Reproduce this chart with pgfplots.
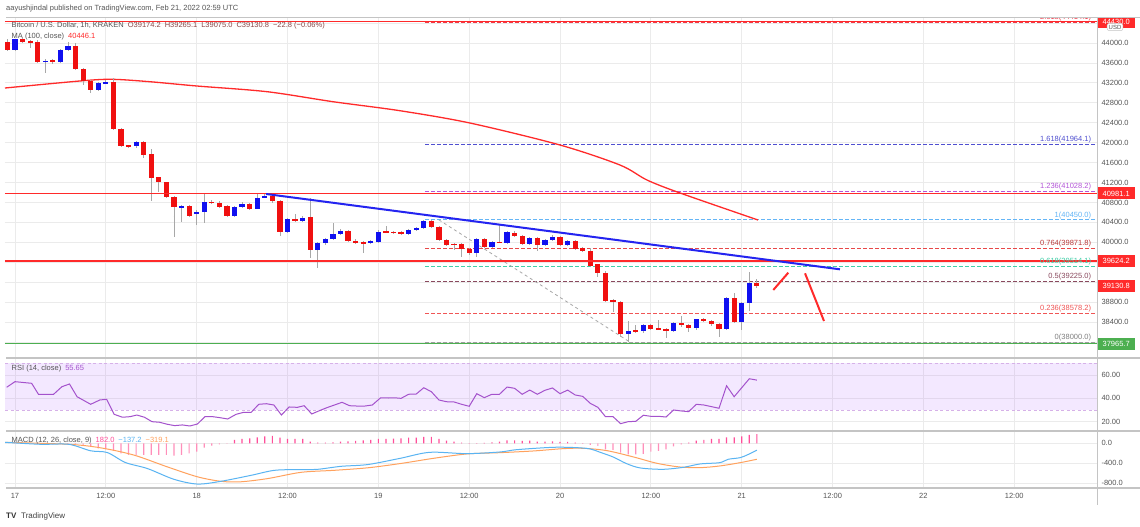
\documentclass[border=0pt]{standalone}
\usepackage{fontspec}
\setmainfont{Liberation Sans}
\usepackage{pgfplots}
\usepackage{pgfplotstable}
\pgfplotsset{compat=1.18}

\definecolor{bull}{HTML}{1010F0}
\definecolor{bear}{HTML}{F01010}
\definecolor{wick}{HTML}{A8A8A8}
\definecolor{gridc}{HTML}{EBEBEB}
\definecolor{sep}{HTML}{C4C4C4}
\definecolor{txt}{HTML}{555555}
\definecolor{lvred}{HTML}{FF2A2A}
\definecolor{lvgreen}{HTML}{4CAF50}
\definecolor{trend}{HTML}{2424F0}
\definecolor{rsic}{HTML}{A452CC}
\definecolor{bandc}{HTML}{B36BFF}
\definecolor{macdb}{HTML}{5AB4F2}
\definecolor{macdo}{HTML}{FFA25E}
\definecolor{hpos}{HTML}{FF4F9A}
\definecolor{hneg}{HTML}{FF8FBA}
\definecolor{fibA}{HTML}{F23645}
\definecolor{fibB}{HTML}{5050D0}
\definecolor{fibC}{HTML}{B455D8}
\definecolor{fibD}{HTML}{64B5F6}
\definecolor{fibE}{HTML}{E84848}
\definecolor{fibF}{HTML}{40CFA8}
\definecolor{fibG}{HTML}{8A4A5E}
\definecolor{fibH}{HTML}{F05555}
\definecolor{fibI}{HTML}{9E9E9E}
\definecolor{ohlc}{HTML}{8A4848}

\newcommand\tv{\fontsize{7.5}{9}\selectfont}

% hourly candles, h = hours from Feb 17 00:00
\pgfplotstableread{
h o hi lo c
-1 44026 44080 43840 43860
0 43860 44090 43840 44074
1 44074 44100 44000 44026
2 44040 44060 43900 44020
3 44026 44060 43600 43625
4 43625 43680 43400 43645
5 43645 43680 43580 43630
6 43625 43880 43600 43860
7 43860 44026 43840 43946
8 43946 44006 43450 43472
9 43472 43500 43157 43237
10 43237 43260 42997 43057
11 43057 43210 43030 43191
12 43191 43250 43170 43217
13 43217 43290 42250 42274
14 42274 42300 41913 41939
15 41939 41960 41887 41930
16 41939 42040 41900 42013
17 42013 42040 41692 41752
18 41766 41870 40829 41297
19 41305 41320 41010 41217
20 41205 41220 40880 40915
21 40915 40930 40112 40702
22 40702 40750 40414 40729
23 40729 40750 40500 40534
24 40562 40640 40347 40610
25 40602 40963 40393 40815
26 40815 40840 40760 40795
27 40795 40820 40690 40715
28 40729 40750 40510 40534
29 40534 40720 40500 40702
30 40702 40800 40680 40760
31 40763 40790 40640 40675
32 40675 40980 40660 40896
33 40900 40960 40880 40930
34 40930 40950 40790 40835
35 40829 40840 40133 40213
36 40213 40490 40180 40462
37 40462 40560 40400 40430
38 40430 40520 40400 40482
39 40515 40883 39680 39845
40 39845 40000 39478 39980
41 39980 40080 39950 40060
42 40060 40381 40040 40160
43 40160 40260 40140 40233
44 40233 40250 40000 40026
45 40033 40060 39970 39993
46 40006 40030 39780 39980
47 39980 40040 39960 40020
48 40013 40240 39990 40213
49 40213 40327 40180 40200
50 40200 40230 40170 40195
51 40213 40230 40140 40166
52 40166 40270 40150 40246
53 40246 40300 40230 40280
54 40280 40450 40260 40435
55 40430 40450 40280 40300
56 40313 40330 40020 40046
57 40046 40060 39920 39946
58 39960 39990 39845 39958
59 39966 39990 39700 39860
60 39860 39880 39750 39780
61 39780 40080 39700 40060
62 40060 40080 39890 39912
63 39912 40030 39890 40013
64 40013 40347 39980 39993
65 39993 40220 39970 40200
66 40193 40230 40110 40133
67 40133 40150 39940 39966
68 39966 40100 39950 40080
69 40080 40100 39830 39940
70 39940 40060 39920 40046
71 40046 40140 40030 40113
72 40113 40130 39920 39946
73 39946 40050 39920 40033
74 40026 40040 39840 39860
75 39880 39900 39800 39832
76 39832 39880 39510 39531
77 39558 39570 39310 39390
78 39390 39430 38800 38822
79 38836 38860 38607 38808
80 38808 38830 38100 38154
81 38154 38420 38000 38220
82 38250 38350 38180 38210
83 38210 38370 38190 38347
84 38347 38370 38240 38260
85 38265 38450 38240 38260
86 38265 38290 38073 38225
87 38225 38400 38200 38374
88 38387 38520 38310 38334
89 38340 38360 38200 38273
90 38287 38470 38250 38454
91 38454 38480 38400 38420
92 38427 38450 38320 38354
93 38354 38380 38106 38267
94 38267 38900 38250 38876
95 38876 38977 38390 38408
96 38408 38800 38250 38777
97 38777 39410 38620 39177
98 39174.2 39265.1 39075.0 39130.8
}\candles

% horizontal levels: value, colour index
\pgfplotstableread{
x lvA lvB lvC lvD
-1.32 44430 40981.1 39624.2 37965.7
142.93 44430 40981.1 39624.2 37965.7
}\levels

\pgfplotsset{
  pane/.style={
    scale only axis, width=1092pt,
    xmin=-1.32, xmax=142.93,
    axis line style={draw=none},
    major tick length=0pt,
    xtick={0,12,...,132}, xticklabels={},
    xmajorgrids, ymajorgrids,
    grid style={gridc, line width=0.8pt},
    yticklabel pos=right,
    ticklabel style={font=\tv, text=txt},
    yticklabel style={anchor=west, xshift=1pt},
    clip mode=individual,
  },
  nomark/.style={only marks, mark=*, mark size=0pt,
    mark options={draw=none, fill=none}, forget plot},
  body/.style={nomark,
    error bars/.cd, y dir=both, y explicit, error mark=none,
    error bar style={line width=5.2pt, #1}},
  fib/.style={#1, line width=0.8pt, dash pattern=on 3.5pt off 2.5pt},
  hlevel/.style={draw=#1, solid, line width=1.5pt, mark=none},
}
\tikzset{
  fibl/.style={anchor=south east, font=\tv, text=#1, inner sep=1pt},
  box/.style={fill=#1, text=white, font=\tv, anchor=west, inner sep=0pt,
    minimum height=12pt, minimum width=38pt},
}

\begin{document}
\begin{tikzpicture}[x=1pt,y=1pt]
\path[use as bounding box] (0,0) rectangle (1140,-527);
\fill[white] (0,0) rectangle (1140,-527);

% ---------------- price pane
\begin{axis}[pane, at={(5pt,-18pt)}, anchor=north west, height=340pt,
  ymin=37678, ymax=44502,
  ytick={38000,38400,...,44400},
  yticklabels={,38400.0,38800.0,,,40000.0,40400.0,40800.0,41200.0,41600.0,42000.0,42400.0,42800.0,43200.0,43600.0,44000.0,}]

% fib levels
\addplot[fib=fibA] coordinates {(54.2,44414.1)(143,44414.1)};
\addplot[fib=fibB] coordinates {(54.2,41964.1)(143,41964.1)};
\addplot[fib=fibC] coordinates {(54.2,41028.2)(143,41028.2)};
\addplot[fib=fibD] coordinates {(54.2,40450)(143,40450)};
\addplot[fib=fibE] coordinates {(54.2,39871.8)(143,39871.8)};
\addplot[fib=fibF] coordinates {(54.2,39514.1)(143,39514.1)};
\addplot[fib=fibG] coordinates {(54.2,39225)(143,39225)};
\addplot[fib=fibH] coordinates {(54.2,38578.2)(143,38578.2)};
\addplot[fib=fibI] coordinates {(54.2,38000)(143,38000)};
\addplot[gray!70, line width=0.8pt, dash pattern=on 3pt off 3pt] coordinates {(56,40450)(81.2,38000)};

% MA 100
\addplot[lvred, line width=1.3pt, smooth] coordinates {
(-1.32,43097)(8.98,43243)(12.95,43271)(17.83,43223)(24.04,43137)(33.29,43023)
(42.01,42822)(50.86,42641)(60.11,42394)(71.99,41953)(79.92,41551)(83.49,41250)
(87.85,40990)(98.15,40448)};

% candles
\addplot[nomark,
  error bars/.cd, y dir=both, y explicit, error mark=none,
  error bar style={line width=0.8pt, wick}]
  table[x=h, y expr={(\thisrow{hi}+\thisrow{lo})/2},
        y error expr={(\thisrow{hi}-\thisrow{lo})/2}] {\candles};
\addplot[restrict expr to domain={\thisrow{c}-\thisrow{o}}{0:100000}, body=bull]
  table[x=h, y expr={(\thisrow{o}+\thisrow{c})/2},
        y error expr={max(abs(\thisrow{c}-\thisrow{o})/2,12)}] {\candles};
\addplot[restrict expr to domain={\thisrow{c}-\thisrow{o}}{-100000:-0.001}, body=bear]
  table[x=h, y expr={(\thisrow{o}+\thisrow{c})/2},
        y error expr={max(abs(\thisrow{c}-\thisrow{o})/2,12)}] {\candles};

% horizontal levels
\addplot[hlevel=lvred] table[x=x, y=lvA] {\levels};
\addplot[hlevel=lvred] table[x=x, y=lvB] {\levels};
\addplot[hlevel=lvred] table[x=x, y=lvC] {\levels};
\addplot[hlevel=lvgreen] table[x=x, y=lvD] {\levels};

% trend line and drawn path
\addplot[trend, line width=2pt] coordinates {(33.16,40970)(108.98,39458)};
\addplot[lvred, line width=2pt] coordinates {(100.17,39043)(102.15,39390)};
\addplot[lvred, line width=2pt] coordinates {(104.36,39378)(106.87,38420)};

% fib labels
\node[fibl=fibA] at (axis cs:142.3,44414.1) {2.618(44414.1)};
\node[fibl=fibB] at (axis cs:142.3,41964.1) {1.618(41964.1)};
\node[fibl=fibC] at (axis cs:142.3,41028.2) {1.236(41028.2)};
\node[fibl=fibD] at (axis cs:142.3,40450) {1(40450.0)};
\node[fibl=fibE!80!black] at (axis cs:142.3,39871.8) {0.764(39871.8)};
\node[fibl=fibF] at (axis cs:142.3,39514.1) {0.618(39514.1)};
\node[fibl=fibG] at (axis cs:142.3,39225) {0.5(39225.0)};
\node[fibl=fibH] at (axis cs:142.3,38578.2) {0.236(38578.2)};
\node[fibl=gray] at (axis cs:142.3,38000) {0(38000.0)};

% price boxes
\node[box=lvred] at (axis cs:142.93,44430) {44430.0};
\node[box=lvred] at (axis cs:142.93,40981.1) {40981.1};
\node[box=lvred] at (axis cs:142.93,39624.2) {39624.2};
\node[box=lvred] at (axis cs:142.93,39130.8) {39130.8};
\node[box=lvgreen] at (axis cs:142.93,37965.7) {37965.7};
\end{axis}

% ---------------- RSI pane
\begin{axis}[pane, at={(5pt,-358pt)}, anchor=north west, height=73pt,
  ymin=12, ymax=74.6, ytick={20,40,60}, yticklabels={20.00,40.00,60.00}]
\addplot[fill=bandc, fill opacity=0.15, draw=none] coordinates {(-2,30)(144,30)(144,70)(-2,70)} -- cycle;
\addplot[rsic!45, line width=0.7pt, dash pattern=on 3pt off 2.5pt] coordinates {(-2,70)(144,70)};
\addplot[rsic!45, line width=0.7pt, dash pattern=on 3pt off 2.5pt] coordinates {(-2,30)(144,30)};
\addplot[rsic, line width=1pt] coordinates {
(-1.1,49.5)(0,54.3)(2.2,52.9)(3.1,43.5)(5.1,43.5)(6.2,50)(7.2,52.3)(8.2,41.4)
(10.0,34.9)(11.2,38.6)(12.1,39.2)(13.1,26.3)(14.2,23.8)(15.2,24.3)(16.1,25.7)
(17.1,23.8)(18.1,20)(19.1,19.5)(20.1,17.8)(21.1,16.6)(22.1,17.2)(23.1,16.3)
(24.1,18)(25.1,24.3)(26.1,24.3)(27.1,23.4)(28.1,22.3)(29.2,26.3)(30.2,28)
(31.2,28)(32.2,34.9)(33.2,35.4)(34.2,34.3)(35.2,25.7)(36.2,32.6)(37.3,32.3)
(38.2,33.7)(39.2,26.6)(40.2,29.4)(41.2,32)(42.2,34.3)(43.2,36.6)(44.2,33.7)
(45.2,33.4)(46.2,33.4)(47.2,34.3)(48.3,40.5)(49.3,40.3)(50.3,40.4)
(51,40)(52,43.5)(53,43.7)(54,49.1)(55,45.7)(56,38.6)(57,37.1)(58,36.9)
(59,34.9)(60,33.2)(61,44)(62,40.6)(63,43.5)(64,43.5)(65,49.7)(66,48.6)
(67,43.5)(68,47.1)(69,43.5)(70,46.9)(71,48.9)(72,44)(73,47.1)(74,42.9)
(75,41.7)(76,35.7)(77,32.3)(78,24.3)(79,24.3)(80,18.3)(81,20)(82,20.3)
(83,25.5)(84,24.6)(85,24.6)(86,24)(87,30)(88,29.2)(89,28.6)(90,34.9)
(91,34.3)(92,32.9)(93,31.5)(94,50.8)(95,41.4)(96,49.1)(97,56.8)(98,55.65)};
\end{axis}

% ---------------- MACD pane
\begin{axis}[pane, at={(5pt,-431pt)}, anchor=north west, height=57pt,
  ymin=-894, ymax=246, ytick={-800,-400,0}, yticklabels={-800.0,-400.0,0.0},
  xticklabels={17,12:00,18,12:00,19,12:00,20,12:00,21,12:00,22,12:00},
  xticklabel style={yshift=-1.5pt}]
\addplot[ybar, bar width=1.2pt, bar shift=0pt, fill=hneg, draw=none] coordinates {
(0,-5)(1,-5)(2,-8)(3,-15)(4,-20)(5,-22)(6,-18)(7,-15)(8,-22)(9,-34)(10,-67)
(11,-100)(12,-120)(13,-153)(14,-200)(15,-233)(16,-233)(17,-233)(18,-233)
(19,-233)(20,-233)(21,-247)(22,-233)(23,-200)(24,-167)(25,-87)(26,-47)(27,-20)
(28,-5)(76,-33)(77,-53)(78,-120)(79,-133)(80,-187)(81,-220)(82,-220)(83,-213)
(84,-167)(85,-153)(86,-120)(87,-60)(88,-20)};
\addplot[ybar, bar width=1.2pt, bar shift=0pt, fill=hpos, draw=none] coordinates {
(29,67)(30,87)(31,100)(32,120)(33,140)(34,147)(35,113)(36,87)(37,87)(38,87)
(39,33)(40,13)(41,13)(42,20)(43,33)(44,40)(45,47)(46,60)(47,67)(48,87)(49,87)
(50,95)(51,100)(52,113)(53,113)(54,127)(55,127)(56,87)(57,53)(58,33)(59,13)
(60,2)(61,3)(62,7)(63,20)(64,33)(65,60)(66,60)(67,47)(68,53)(69,33)(70,33)
(71,40)(72,27)(73,27)(74,13)(75,2)(89,13)(90,53)(91,67)(92,87)(93,87)(94,120)
(95,120)(96,140)(97,167)(98,182)};
\addplot[macdo, line width=1pt, smooth] coordinates {
(-1.3,20)(7.1,-20)(11.3,-90)(15.7,-235)(20.1,-470)(24.1,-670)(27.2,-760)
(29.8,-770)(33.4,-705)(37.8,-580)(42.2,-540)(46.6,-490)(50.9,-405)(55.3,-300)
(59.7,-213)(64.1,-187)(68.5,-153)(72.4,-107)(75.1,-100)(78.2,-147)(81.7,-273)
(84.8,-400)(87.8,-473)(90.5,-487)(93.1,-453)(95.8,-387)(98,-319.1)};
\addplot[macdb, line width=1pt, smooth] coordinates {
(-1.3,20)(3.4,-20)(7.1,-20)(10,-150)(12.2,-185)(14.6,-385)(17.5,-505)(21,-720)
(24.1,-815)(27.2,-760)(31.2,-640)(34.3,-540)(37.8,-525)(40,-520)(43.1,-460)
(46.6,-425)(50.9,-300)(54.8,-180)(59.7,-207)(64.1,-173)(66.3,-127)(71.1,-80)
(74.2,-87)(76,-113)(77.3,-180)(79,-273)(80.8,-407)(82.6,-493)(85.6,-520)
(88.3,-480)(90.5,-413)(93.1,-387)(94.2,-320)(95.8,-287)(96.9,-220)(98,-137.2)};
\end{axis}

% ---------------- frame, header, legends
\fill[white] (0,0) rectangle (1140,-17.5);
\draw[sep, line width=1pt] (6,-17.5) -- (1140,-17.5);
\draw[sep, line width=1.4pt] (6,-358) -- (1140,-358);
\draw[sep, line width=1.4pt] (6,-431) -- (1140,-431);
\draw[sep, line width=1.4pt] (6,-488) -- (1140,-488);
\draw[sep, line width=1pt] (1097.5,-17.5) -- (1097.5,-505);
\node[draw=sep, fill=white, rounded corners=2pt, font=\fontsize{6}{7}\selectfont, text=txt,
  inner sep=1.5pt] at (1115,-27) {USD};

\node[anchor=west, font=\tv, text=txt, inner sep=0pt] at (6,-9)
  {aayushjindal published on TradingView.com, Feb 21, 2022 02:59 UTC};
\node[anchor=west, font=\tv, text=txt, inner sep=0pt] at (11.5,-25.5)
  {Bitcoin / U.S. Dollar, 1h, KRAKEN\hspace{4pt}\textcolor{ohlc}{O39174.2\hspace{4pt}H39265.1\hspace{4pt}L39075.0\hspace{4pt}C39130.8\hspace{4pt}−22.8 (−0.06\%)}};
\node[anchor=west, font=\tv, text=txt, inner sep=0pt] at (11.5,-37)
  {MA (100, close)\hspace{4pt}\textcolor{lvred}{40446.1}};
\node[anchor=west, font=\tv, text=txt, inner sep=0pt] at (11.5,-369)
  {RSI (14, close)\hspace{4pt}\textcolor{rsic}{55.65}};
\node[anchor=west, font=\tv, text=txt, inner sep=0pt] at (11.5,-441)
  {MACD (12, 26, close, 9)\hspace{4pt}\textcolor{hpos}{182.0}\hspace{4pt}\textcolor{macdb}{−137.2}\hspace{4pt}\textcolor{macdo}{−319.1}};
\node[anchor=west, font=\bfseries\fontsize{8}{9}\selectfont, text=black!80, inner sep=0pt] at (6,-516) {TV};
\node[anchor=west, font=\fontsize{8}{9}\selectfont, text=black!75, inner sep=0pt] at (21,-516) {TradingView};
\end{tikzpicture}
\end{document}
